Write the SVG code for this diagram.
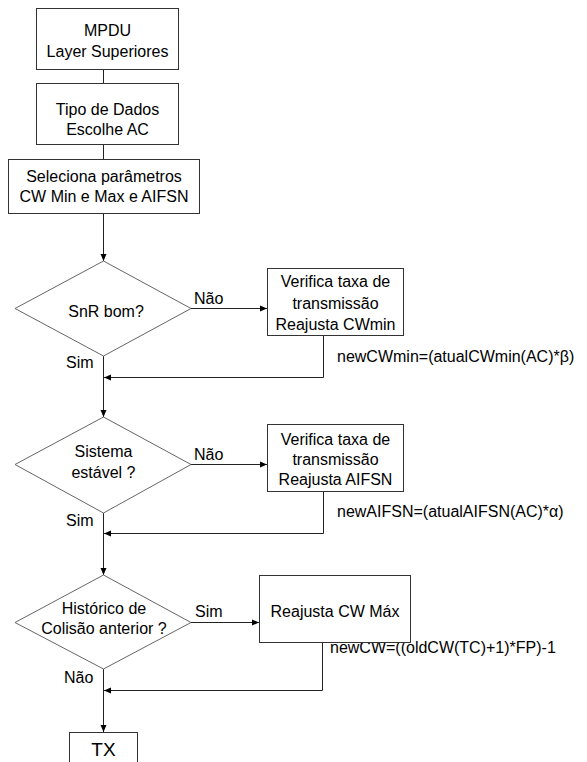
<svg xmlns="http://www.w3.org/2000/svg" width="587" height="762" viewBox="0 0 587 762">
<defs>
<marker id="ah" markerWidth="8" markerHeight="8" refX="7" refY="3.5" orient="auto" markerUnits="userSpaceOnUse">
<path d="M0,0.5 L7,3.5 L0,6.5 Z" fill="#000"/>
</marker>
<style>
.box{fill:#fff;stroke:#333;stroke-width:1}
.dia{fill:#fff;stroke:#666;stroke-width:1}
.ln{fill:none;stroke:#222;stroke-width:1}
text{font-family:"Liberation Sans",Arial,sans-serif;font-size:16px;fill:#000}
.c{text-anchor:middle}
</style>
</defs>
<rect width="587" height="762" fill="#fff"/>
<g id="connectors">
<path class="ln" d="M103.5,69 V83"/>
<path class="ln" d="M103.5,144 V159"/>
<path class="ln" d="M103.5,213 V261" marker-end="url(#ah)"/>
<path class="ln" d="M191,308.5 H267" marker-end="url(#ah)"/>
<path class="ln" d="M323.5,335 V377.5 H104" marker-end="url(#ah)"/>
<path class="ln" d="M103.5,356 V417" marker-end="url(#ah)"/>
<path class="ln" d="M191,464.5 H267" marker-end="url(#ah)"/>
<path class="ln" d="M323.5,492 V533.5 H104" marker-end="url(#ah)"/>
<path class="ln" d="M103.5,513 V575" marker-end="url(#ah)"/>
<path class="ln" d="M191,622.5 H259" marker-end="url(#ah)"/>
<path class="ln" d="M322.5,642 V690.5 H104" marker-end="url(#ah)"/>
<path class="ln" d="M103.5,669 V732" marker-end="url(#ah)"/>
<text x="194" y="304">Não</text>
<text x="66" y="368">Sim</text>
<text x="194" y="460">Não</text>
<text x="66" y="526">Sim</text>
<text x="195" y="617">Sim</text>
<text x="64" y="683">Não</text>
<text x="337" y="362">newCWmin=(atualCWmin(AC)*β)</text>
<text x="337" y="517">newAIFSN=(atualAIFSN(AC)*α)</text>
<text x="330" y="653">newCW=((oldCW(TC)+1)*FP)-1</text>
</g>
<g id="mpdu">
<rect class="box" x="36.5" y="8.5" width="142" height="61"/>
<text class="c" x="107.5" y="36">MPDU</text>
<text class="c" x="107.5" y="57">Layer Superiores</text>
</g>
<g id="tipo">
<rect class="box" x="36.5" y="83.5" width="142" height="61"/>
<text class="c" x="107.5" y="115">Tipo de Dados</text>
<text class="c" x="107.5" y="135">Escolhe AC</text>
</g>
<g id="seleciona">
<rect class="box" x="8.5" y="159.5" width="191" height="54"/>
<text class="c" x="104" y="182">Seleciona parâmetros</text>
<text class="c" x="104" y="202">CW Min e Max e AIFSN</text>
</g>
<g id="snr">
<polygon class="dia" points="103.5,261 191,308.5 103.5,356 15,308.5"/>
<text class="c" x="106" y="317">SnR bom?</text>
</g>
<g id="cwmin">
<rect class="box" x="267.5" y="268.5" width="136" height="67"/>
<text class="c" x="335.5" y="287">Verifica taxa de</text>
<text class="c" x="335.5" y="309">transmissão</text>
<text class="c" x="335.5" y="330">Reajusta CWmin</text>
</g>
<g id="sistema">
<polygon class="dia" points="103.5,417 191,464.5 103.5,513 15,464.5"/>
<text class="c" x="103.5" y="457">Sistema</text>
<text class="c" x="103.5" y="478">estável ?</text>
</g>
<g id="aifsn">
<rect class="box" x="267.5" y="424.5" width="136" height="67"/>
<text class="c" x="335.5" y="445">Verifica taxa de</text>
<text class="c" x="335.5" y="465">transmissão</text>
<text class="c" x="335.5" y="485">Reajusta AIFSN</text>
</g>
<g id="historico">
<polygon class="dia" points="103.5,575 191,622.5 103.5,669 15,622.5"/>
<text class="c" x="104" y="614">Histórico de</text>
<text class="c" x="104" y="634">Colisão anterior ?</text>
</g>
<g id="cwmax">
<rect class="box" x="259.5" y="575.5" width="151" height="67"/>
<text class="c" x="335" y="617">Reajusta CW Máx</text>
</g>
<g id="tx">
<rect class="box" x="69.5" y="732.5" width="68" height="40"/>
<text class="c" x="103.5" y="756" style="font-size:19px">TX</text>
</g>
</svg>
